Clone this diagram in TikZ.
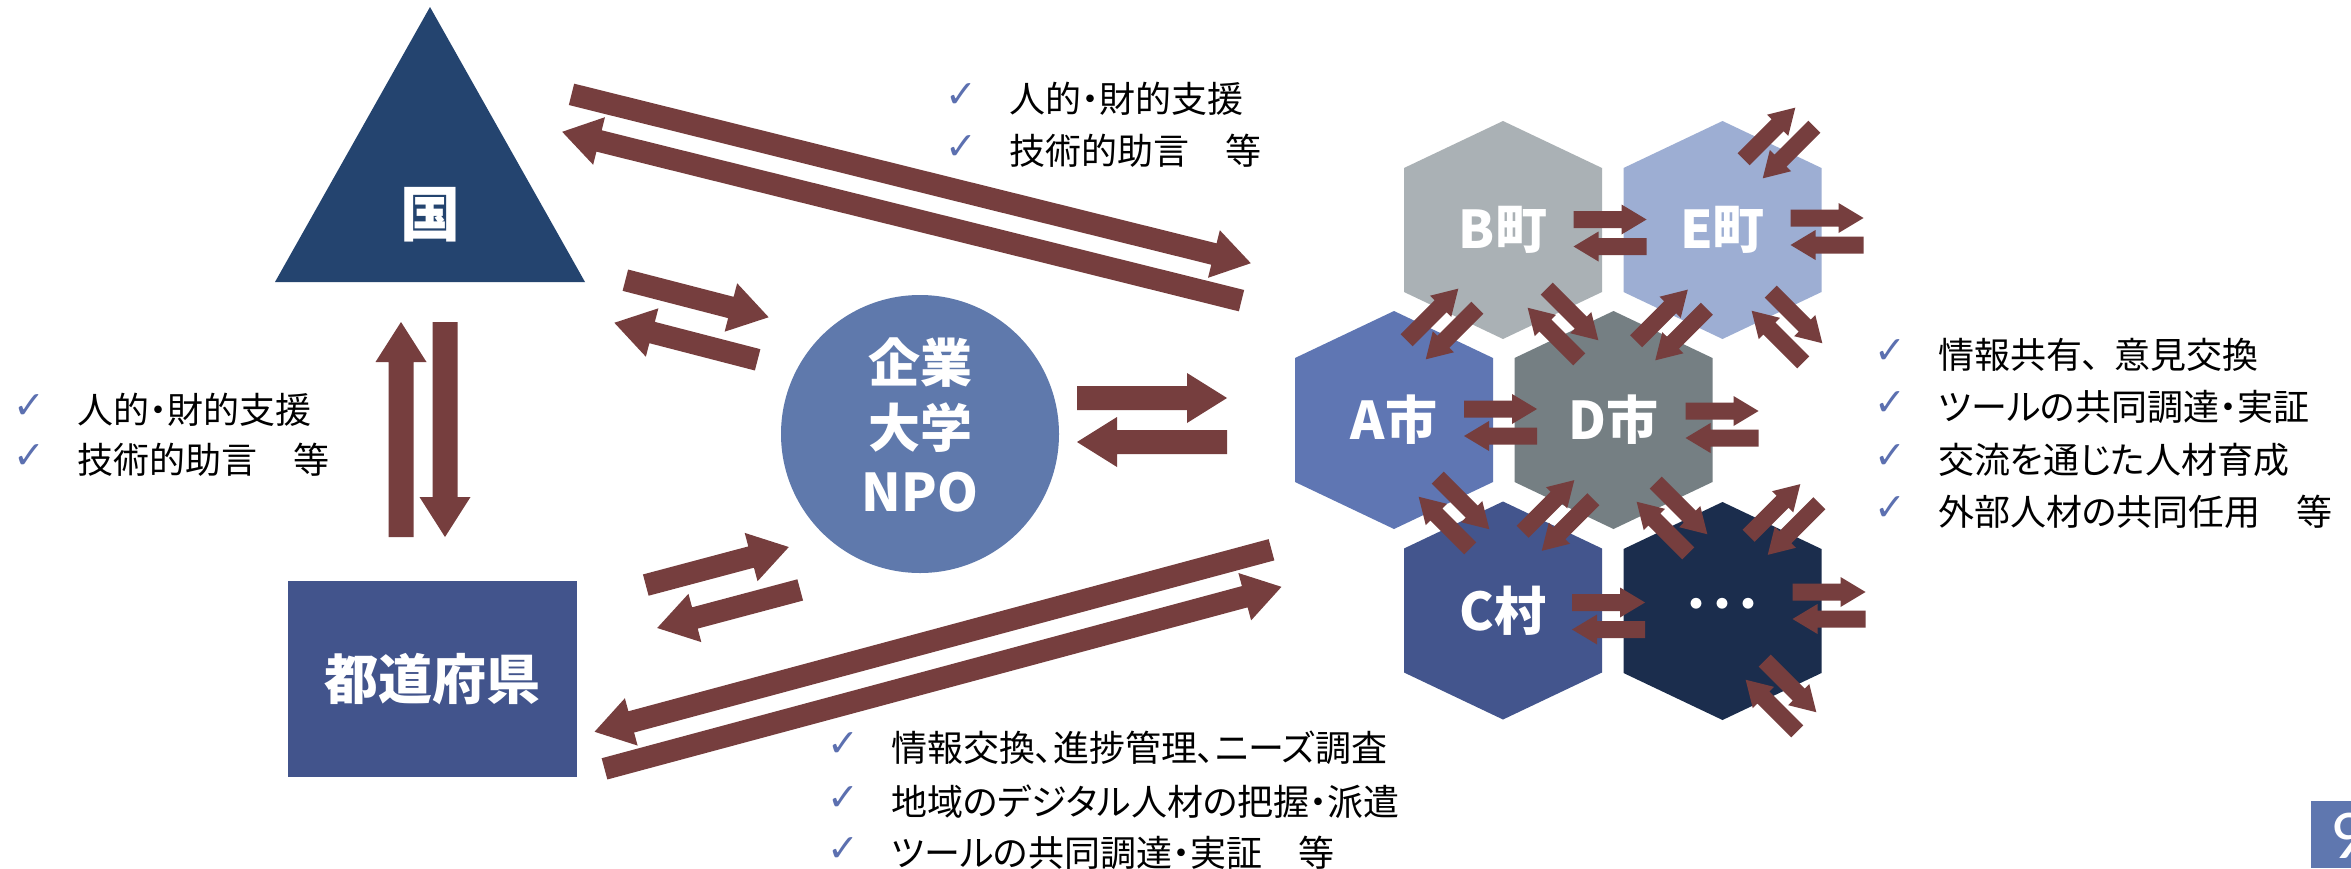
\documentclass[tikz,border=0pt]{standalone}
\usepackage{fontspec}
\usetikzlibrary{calc}
\newfontfamily\jp{Noto Sans CJK JP}
\newfontfamily\jpp[RawFeature=+palt]{Noto Sans CJK JP}
\newfontfamily\dv{DejaVu Sans}
\newfontfamily\carl{Carlito}
\definecolor{arr}{HTML}{763E3E}
\definecolor{tric}{HTML}{24446F}
\definecolor{prefc}{HTML}{42548C}
\definecolor{orgc}{HTML}{5F79AC}
\definecolor{hB}{HTML}{AAB1B5}
\definecolor{hE}{HTML}{9DAED3}
\definecolor{hA}{HTML}{5F76B3}
\definecolor{hD}{HTML}{757F83}
\definecolor{hC}{HTML}{43558D}
\definecolor{hX}{HTML}{1B2D4D}
\definecolor{chk}{HTML}{5C70B0}
\definecolor{pgc}{HTML}{5F77AF}
\tikzset{
  arrowc/.style={fill=arr},
  lbl/.style={font=\jp\bfseries\fontsize{52}{60}\selectfont, text=white, inner sep=0pt},
  listtxt/.style={font=\jpp\fontsize{36}{40}\selectfont, anchor=west, inner sep=0pt, text height=29pt, text depth=3pt},
  chkst/.style={font=\dv\fontsize{38}{40}\selectfont, text=chk, inner sep=0pt},
}
% block arrow: tail, tip, shaft half width, head half width, head length
\newcommand\blockarr[5]{%
  \path #1 coordinate (ba) #2 coordinate (bb);
  \path ($(bb)!#5!(ba)$) coordinate (bm);
  \fill[arrowc] ($(ba)!#3!90:(bb)$) -- ($(bm)!#3!90:(bb)$) -- ($(bm)!#4!90:(bb)$) -- (bb)
     -- ($(bm)!#4!-90:(bb)$) -- ($(bm)!#3!-90:(bb)$) -- ($(ba)!#3!-90:(bb)$) -- cycle;
}
% pair of opposite arrows: mid, angle, half length, offset, s, h, L
\newcommand\apair[7]{%
  \path ($#1+(#2+180:#3)+(#2+90:#4)$) coordinate (pa1)
        ($#1+(#2:#3)+(#2+90:#4)$) coordinate (pb1)
        ($#1+(#2:#3)-(#2+90:#4)$) coordinate (pa2)
        ($#1+(#2+180:#3)-(#2+90:#4)$) coordinate (pb2);
  \blockarr{(pa1)}{(pb1)}{#5}{#6}{#7}
  \blockarr{(pa2)}{(pb2)}{#5}{#6}{#7}
}
\newcommand\spair[2]{\apair{#1}{#2}{36.5}{-13.5}{8.5pt}{15pt}{25pt}}
\newcommand\hexat[2]{\fill[#2] ($#1+(0,-109)$) -- ++(99,47) -- ++(0,124) -- ++(-99,47) -- ++(-99,-47) -- ++(0,-124) -- cycle;}
\newcommand\litem[4]{%
  \node[chkst] (#1c) at ($(#2,#3)+(-48,-3)$) {✓};
  \node[listtxt] (#1) at (#2,#3) {#4};}
\begin{document}
\begin{tikzpicture}[x=1pt,y=-1pt]
\useasboundingbox (0,0) rectangle (2351,868);
\fill[white] (0,0) rectangle (2351,868);

% triangle (national government)
\fill[tric] (430,7) -- (585,282) -- (275,282) -- cycle;
\node[lbl, font=\jp\bfseries\fontsize{60}{60}\selectfont] (kuni) at (430,215) {国};

% prefecture
\node[fill=prefc, minimum width=289pt, minimum height=196pt, inner sep=0pt, text=white,
      font=\jp\bfseries\fontsize{54}{60}\selectfont] (pref) at (432.5,679) {都道府県};

% organisations circle
\node[circle, fill=orgc, minimum size=278pt, inner sep=0pt] (org) at (920,434) {};
\node[lbl, align=center, font=\jp\bfseries\fontsize{52}{64.5}\selectfont] (orgl) at (920,425) {企業\\大学\\NPO};

% hexagons
\coordinate (cB) at (1503,230);
\coordinate (cE) at (1722.5,230);
\coordinate (cA) at (1394,420);
\coordinate (cD) at (1613.5,420);
\coordinate (cC) at (1503,610.5);
\coordinate (cX) at (1722.5,611);
\hexat{(cB)}{hB}
\hexat{(cE)}{hE}
\hexat{(cA)}{hA}
\hexat{(cD)}{hD}
\hexat{(cC)}{hC}
\hexat{(cX)}{hX}
\node[lbl] (B) at (cB) {B町};
\node[lbl] (E) at (cE) {E町};
\node[lbl] (A) at (cA) {A市};
\node[lbl] (D) at (cD) {D市};
\node[lbl] (C) at (cC) {C村};
\node[lbl] (X) at (cX) {･･･};

% big arrow pairs
\coordinate (mV) at (423,429.5);
\coordinate (mTop) at (906.5,197.5);
\coordinate (mTC) at (691.5,320);
\coordinate (mRC) at (723,587.5);
\coordinate (mCH) at (1152,420);
\coordinate (mBot) at (938,659.3);
\apair{(mV)}{-90}{107.5}{-22}{12.5pt}{25.5pt}{40pt}
\apair{(mTop)}{13.96}{350}{-19.3}{11pt}{24.5pt}{38pt}
\apair{(mTC)}{14.5}{74}{-22}{11pt}{25pt}{39pt}
\apair{(mRC)}{-14.9}{74}{-22.2}{11pt}{25pt}{39pt}
\apair{(mCH)}{0}{75}{-22}{12pt}{25pt}{40pt}
\apair{(mBot)}{-15.05}{350.5}{19.2}{11pt}{24.5pt}{38pt}

% small arrow pairs among hexagons
\coordinate (pBE) at (1610,233);
\coordinate (pEo) at (1827,231.5);
\coordinate (pAD) at (1500.5,422.5);
\coordinate (pDo) at (1722,424.5);
\coordinate (pCX) at (1608.5,616);
\coordinate (pXo) at (1829,605.5);
\spair{(pBE)}{0}
\spair{(pEo)}{0}
\spair{(pAD)}{0}
\spair{(pDo)}{0}
\spair{(pCX)}{0}
\spair{(pXo)}{0}
\coordinate (pBA) at (1442,324);
\coordinate (pBD) at (1563,324);
\coordinate (pED) at (1671.5,325);
\coordinate (pEl) at (1787,327);
\coordinate (pEu) at (1779,143);
\coordinate (pAC) at (1454,513);
\coordinate (pCD) at (1558,515.5);
\coordinate (pDX) at (1672,518);
\coordinate (pXu) at (1784,519.5);
\coordinate (pXl) at (1781,696);
\spair{(pBA)}{-45}
\spair{(pBD)}{45}
\spair{(pED)}{-45}
\spair{(pEl)}{45}
\spair{(pEu)}{-45}
\spair{(pAC)}{45}
\spair{(pCD)}{-45}
\spair{(pDX)}{45}
\spair{(pXu)}{-45}
\spair{(pXl)}{45}

% lists
\litem{L1}{77}{410}{人的・財的支援}
\litem{L2}{77}{460}{技術的助言　等}
\litem{T1}{1009}{99}{人的・財的支援}
\litem{T2}{1009}{151}{技術的助言　等}
\litem{R1}{1938}{355}{情報共有、\kern0.4em意見交換}
\litem{R2}{1938}{407}{ツールの共同調達・実証}
\litem{R3}{1938}{460}{交流を通じた人材育成}
\litem{R4}{1938}{512}{外部人材の共同任用　等}
\litem{D1}{891}{748}{情報交換、進捗管理、ニーズ調査}
\litem{D2}{891}{802}{地域のデジタル人材の把握・派遣}
\litem{D3}{891}{853}{ツールの共同調達・実証　等}

% page number
\fill[pgc] (2311,801) rectangle (2351,868);
\node[font=\carl\fontsize{70}{70}\selectfont, text=white, anchor=west, inner sep=0pt] (pnum) at (2330,836) {9};
\end{tikzpicture}
\end{document}
